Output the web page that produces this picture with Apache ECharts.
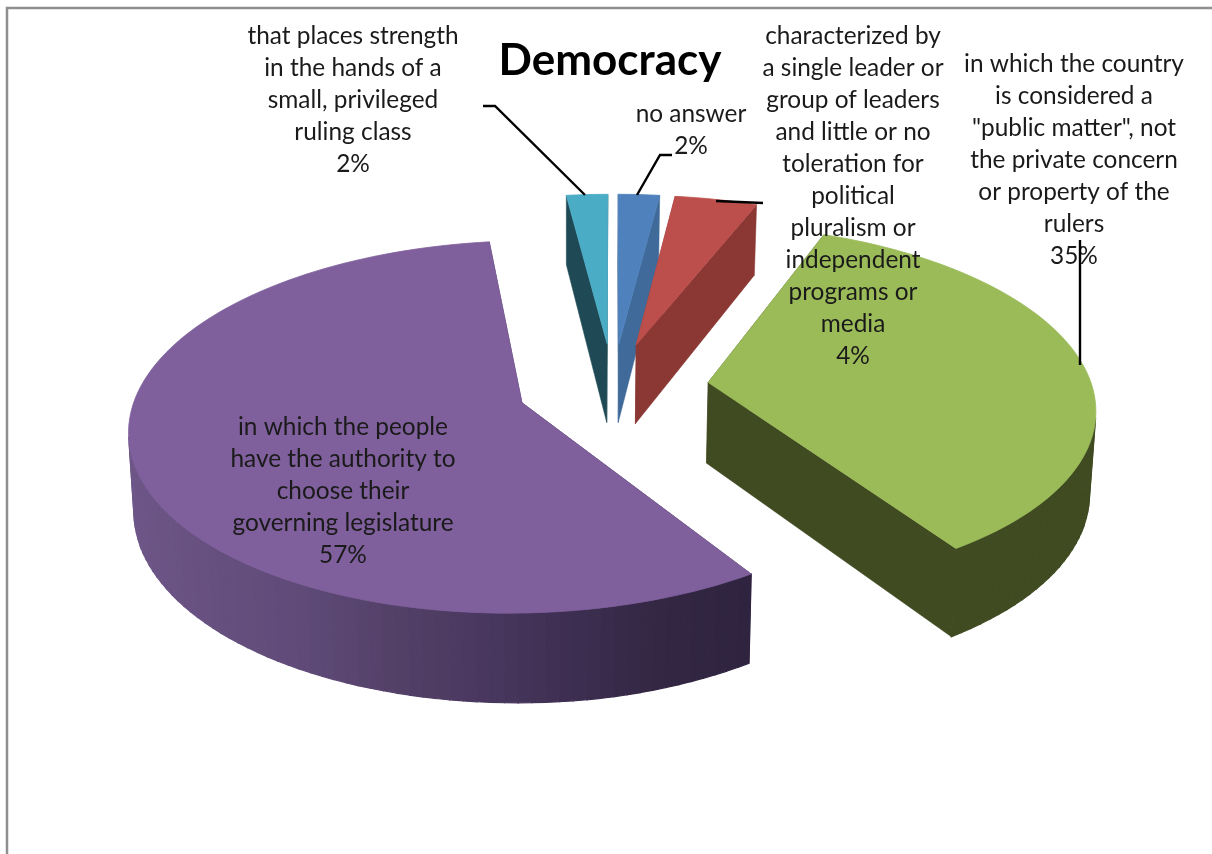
<!DOCTYPE html>
<html>
<head>
<meta charset="utf-8">
<style>html,body{margin:0;padding:0;background:#fff}#c{width:1212px;height:854px}</style>
<script src="https://cdn.jsdelivr.net/npm/echarts@6/dist/echarts.min.js"></script>
</head>
<body>
<div id="c"></div>
<script>
// ---- data ----
const chartTitle = 'Democracy';
const categories = [
  'no answer',
  'characterized by a single leader or group of leaders and little or no toleration for political pluralism or independent programs or media',
  'in which the country is considered a "public matter", not the private concern or property of the rulers',
  'in which the people have the authority to choose their governing legislature',
  'that places strength in the hands of a small, privileged ruling class'
];
const values = [2, 4, 34.7, 57.3, 2];
const labelLines = [
  ['no answer'],
  ['characterized by', 'a single leader or', 'group of leaders', 'and little or no', 'toleration for', 'political', 'pluralism or', 'independent', 'programs or', 'media'],
  ['in which the country', 'is considered a', '"public matter", not', 'the private concern', 'or property of the', 'rulers'],
  ['in which the people', 'have the authority to', 'choose their', 'governing legislature'],
  ['that places strength', 'in the hands of a', 'small, privileged', 'ruling class']
];

// ---- styles and layout ----
const topColors  = ['#4f81bd', '#bc4f4c', '#9bbb59', '#7f5f9c', '#4bacc6'];
const wallColors = ['#3f6a99', '#8b3835', '#404b22', '#2f2440', '#1f4a55'];
const shadedWall = ['#6e5788', '#66507f', '#5f4a78', '#544168', '#4a3860', '#3e2f52', '#332744', '#2f2440'];
const labelAnchors = [[691, 98], [853, 20], [1074, 48], [343, 411], [353, 20]];
const leaders = [
  [[672, 155], [660, 155], [637, 195]],
  [[716, 201], [763, 203]],
  [[1080, 240], [1080, 365]],
  null,
  [[483, 106], [495, 106], [585, 195]]
];
const pie = {cx: 613, cy: 387, rx: 384, ry: 179, k: 0.1286, explode: 0.25, drop: 81, dropV: 9, dropLeft: 0.00012, shrink: 0.012, vanishX: 570};
const LINE_H = 32;

const total = values.reduce((a, b) => a + b, 0);
const starts = [];
values.reduce((acc, v, i) => { starts[i] = acc; return acc + v; }, 0);

function project(u, v, low) {
  const s = 1 + pie.k * v;
  let x = pie.cx + pie.rx * u / s;
  let y = pie.cy - pie.ry * v / s;
  if (low) {
    const side = 1 + pie.dropLeft * Math.min(0, x - pie.cx);
    y += (pie.drop - pie.dropV * v) * side;
    x -= (x - pie.vanishX) * pie.shrink;
  }
  return [x, y];
}

function renderSlice(params, api) {
  const i = params.dataIndex;
  const val = api.value(0);
  const a0 = starts[i] / total * 2 * Math.PI;
  const a1 = a0 + val / total * 2 * Math.PI;
  const mid = (a0 + a1) / 2;
  const ou = pie.explode * Math.sin(mid), ov = pie.explode * Math.cos(mid);
  const n = Math.max(4, Math.round(val * 2));
  const rim = [];
  for (let j = 0; j <= n; j++) {
    const a = a0 + (a1 - a0) * j / n;
    rim.push([ou + Math.sin(a), ov + Math.cos(a)]);
  }
  const top = rim.map(p => project(p[0], p[1], false));
  const low = rim.map(p => project(p[0], p[1], true));
  const apexT = project(ou, ov, false), apexL = project(ou, ov, true);
  const wall = wallColors[i];
  const xs = top.map(p => p[0]);
  const minX = Math.min.apply(null, xs), maxX = Math.max.apply(null, xs);
  const poly = (pts, fill, z, w) => ({
    type: 'polygon', z2: z, shape: {points: pts},
    style: {fill: fill, stroke: fill, lineWidth: w}
  });
  const children = [
    poly([apexT, top[0], low[0], apexL], wall, 1, 0.5),
    poly([apexT, top[n], low[n], apexL], wall, 1, 0.5)
  ];
  for (let j = 0; j < n; j++) {
    const ex = top[j + 1][0] - top[j][0], ey = top[j + 1][1] - top[j][1];
    const dx = low[j][0] - top[j][0], dy = low[j][1] - top[j][1];
    if (ex * dy - ey * dx >= 0) continue;   // back-facing part of the rim
    const fill = i === 3
      ? echarts.color.lerp((top[j][0] - minX) / (maxX - minX), shadedWall)
      : wall;
    children.push(poly([top[j], top[j + 1], low[j + 1], low[j]], fill, 2, 1.2));
  }
  children.push(poly([apexT].concat(top), topColors[i], 3, 0.8));
  return {type: 'group', children: children};
}

function renderLabel(params, api) {
  const i = params.dataIndex;
  const a = labelAnchors[i];
  const children = [{
    type: 'text', z2: 10,
    style: {
      text: labelLines[i].concat([Math.round(api.value(0)) + '%']).join('\n'),
      x: a[0], y: a[1], align: 'center', verticalAlign: 'top',
      font: '24.4px Lato, sans-serif', lineHeight: LINE_H, fill: '#1a1a1a'
    }
  }];
  if (leaders[i]) {
    children.push({
      type: 'polyline', z2: 11, shape: {points: leaders[i]},
      style: {stroke: '#000', lineWidth: 2.4, fill: null}
    });
  }
  return {type: 'group', children: children};
}

const rows = values.map((v, i) => ({name: categories[i], value: [v]}));
const chart = echarts.init(document.getElementById('c'), null, {renderer: 'canvas'});
chart.setOption({
  animation: false,
  backgroundColor: '#fff',
  title: {
    text: chartTitle, left: 605, top: 34, textAlign: 'center',
    textStyle: {fontFamily: 'Lato, sans-serif', fontWeight: 'bold', fontSize: 44, color: '#000'}
  },
  tooltip: {show: false},
  graphic: [{
    type: 'polyline', silent: true,
    shape: {points: [[7, 854], [7, 8], [1212, 8]]},
    style: {stroke: '#8f8f8f', lineWidth: 2.5, fill: null}
  }],
  series: [
    {type: 'custom', coordinateSystem: 'none', z: 2, silent: true, clip: false, renderItem: renderSlice, data: rows},
    {type: 'custom', coordinateSystem: 'none', z: 5, silent: true, clip: false, renderItem: renderLabel, data: rows}
  ]
});
</script>
</body>
</html>
